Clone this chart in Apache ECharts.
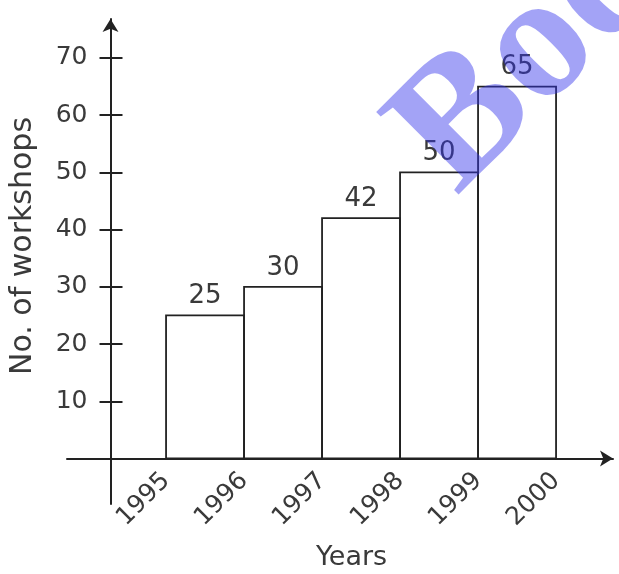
<!DOCTYPE html>
<html><head><meta charset="utf-8">
<script src="https://cdn.jsdelivr.net/npm/echarts@6/dist/echarts.min.js"></script>
<style>html,body{margin:0;padding:0;background:#fff}#c{width:619px;height:574px}</style>
</head><body><div id="c"></div>
<script>
const years = [1995, 1996, 1997, 1998, 1999];
const workshops = [25, 30, 42, 50, 65];
const xTickYears = [1995, 1996, 1997, 1998, 1999, 2000];
const yTickValues = [10, 20, 30, 40, 50, 60, 70];
const xName = 'Years';
const yName = 'No. of workshops';
const watermark = 'Book';

const FONT = '"DejaVu Sans", Verdana, sans-serif';
const AX = '#222';
const TXT = '#3a3a3a';
const chart = echarts.init(document.getElementById('c'));
const yCommon = {type: 'value', min: -7.95, max: 76.8, position: 'left', offset: -43.5, splitLine: {show: false}};
const option = {
  animation: false,
  grid: {left: 67, right: 6, top: 19, bottom: 70, outerBoundsMode: 'none', containLabel: false},
  xAxis: {
    type: 'value', min: 1993.73, max: 2000.73, splitLine: {show: false},
    axisLine: {onZero: true, lineStyle: {color: AX, width: 2}, symbol: ['none', 'arrow'], symbolSize: [12, 13]},
    axisTick: {show: false},
    axisLabel: {customValues: xTickYears, rotate: 45, margin: -27, color: TXT, fontSize: 25, fontFamily: FONT,
      formatter: v => String(v)}
  },
  yAxis: [
    Object.assign({}, yCommon, {
      axisLine: {show: true, onZero: false, lineStyle: {color: AX, width: 2}, symbol: ['none', 'arrow'], symbolSize: [12, 13]},
      axisTick: {show: true, customValues: yTickValues, length: 11, lineStyle: {color: AX, width: 2}},
      axisLabel: {customValues: yTickValues, margin: 23, color: TXT, fontSize: 25, fontFamily: FONT}
    }),
    Object.assign({}, yCommon, {
      axisLine: {show: false},
      axisTick: {show: true, inside: true, customValues: yTickValues, length: 12, lineStyle: {color: AX, width: 2}},
      axisLabel: {show: false}
    })
  ],
  series: [{
    type: 'custom',
    renderItem: function (params, api) {
      const y0 = api.value(0), v = api.value(1);
      const tl = api.coord([y0, v]);
      const br = api.coord([y0 + 1, 0]);
      return {
        type: 'rect',
        shape: {x: tl[0], y: tl[1], width: br[0] - tl[0], height: br[1] - tl[1]},
        style: {fill: 'rgba(0,0,0,0)', stroke: '#222', lineWidth: 1.8},
        textContent: {style: {text: String(v), font: '26px ' + FONT, fill: TXT}},
        textConfig: {position: 'top', distance: 5}
      };
    },
    data: years.map((y, i) => [y, workshops[i]]),
    encode: {x: 0, y: 1}
  }],
  graphic: [
    {type: 'text', x: 351.5, y: 558, style: {text: xName, font: '27px ' + FONT, fill: TXT, textAlign: 'center', textVerticalAlign: 'middle'}},
    {type: 'text', x: 23, y: 246, rotation: Math.PI / 2, style: {text: yName, font: '30px ' + FONT, fill: TXT, textAlign: 'center', textVerticalAlign: 'middle'}},
    {type: 'text', x: 424, y: 164, rotation: Math.PI / 4, z: 100, style: {text: watermark, font: 'bold 178px "Liberation Serif", serif', fill: 'rgba(50,50,235,0.45)', textAlign: 'left', textVerticalAlign: 'middle'}}
  ]
};
chart.setOption(option);
</script>
</body></html>
